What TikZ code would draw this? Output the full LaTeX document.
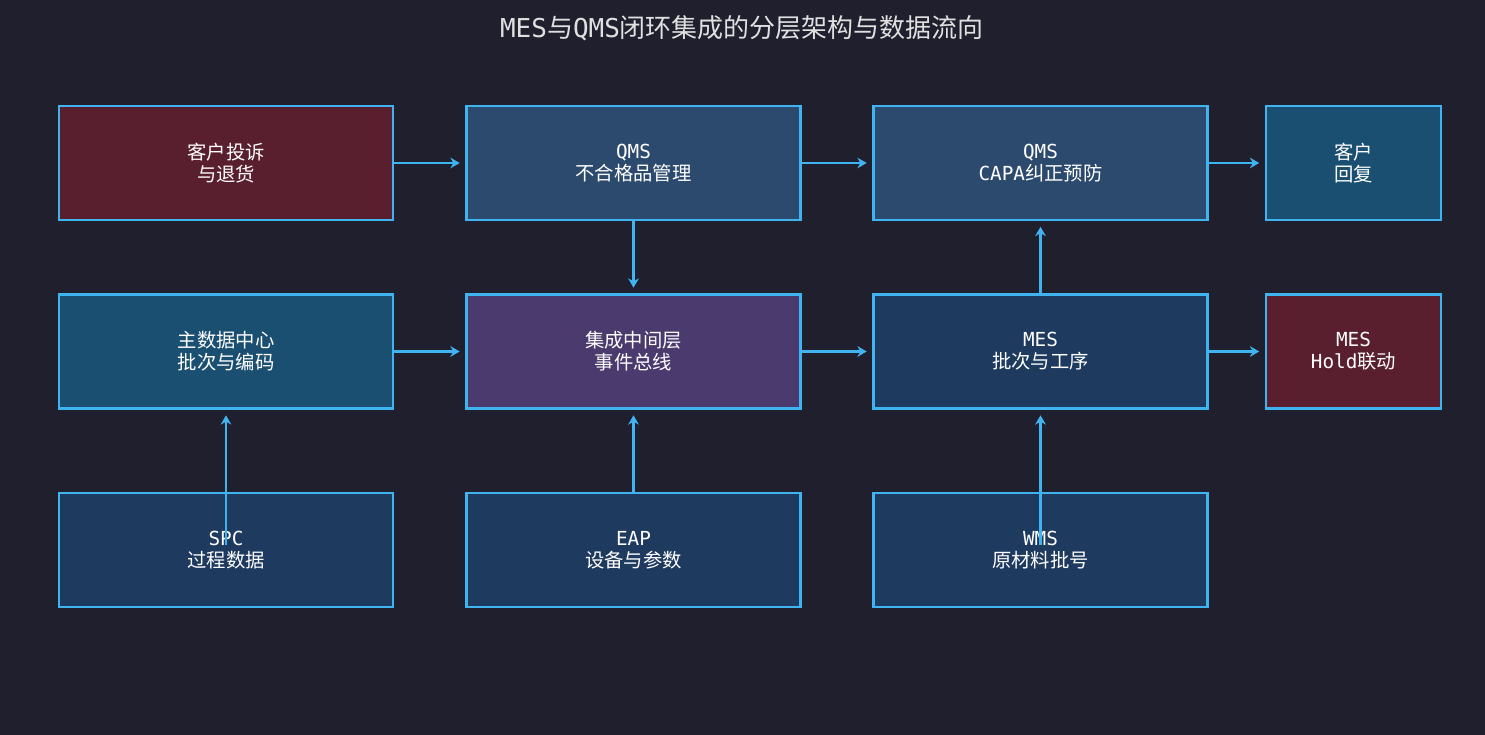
\documentclass[tikz,border=0pt]{standalone}
\usepackage{fontspec}
\setmainfont{DejaVu Sans Mono}
\newfontfamily\cjk{Noto Sans CJK SC}
\usetikzlibrary{arrows.meta}
\definecolor{bgc}{HTML}{1F1F2E}
\definecolor{edgec}{HTML}{3FB4F0}
\definecolor{redc}{HTML}{5A1F2E}
\definecolor{slatec}{HTML}{2C4A6E}
\definecolor{tealc}{HTML}{1B4F72}
\definecolor{purplec}{HTML}{4A3A6E}
\definecolor{navyc}{HTML}{1E3A5F}
\tikzset{
  box/.style={draw=edgec,line width=2.2pt,text=white,align=center,
    minimum width=250.5pt,minimum height=85.5pt,inner sep=0pt,font=\fontsize{14.5}{16.5}\selectfont},
  small/.style={box,minimum width=131.25pt},
  flow/.style={draw=edgec,line width=2.2pt,-{Stealth[length=7pt,width=8pt]}},
}
\begin{document}
\begin{tikzpicture}[x=0.75pt,y=-0.75pt]
\fill[bgc] (0,0) rectangle (1485,735);
\useasboundingbox (0,0) rectangle (1485,735);
\node[text=white!88!black,font=\fontsize{19.5}{22}\selectfont] (title) at (742,28) {MES{\cjk 与}QMS{\cjk 闭环集成的分层架构与数据流向}};
% top row
\node[box,fill=redc] (complaint) at (226,163) {{\cjk 客户投诉}\\{\cjk 与退货}};
\node[box,fill=slatec] (ncr) at (633.5,163) {QMS\\{\cjk 不合格品管理}};
\node[box,fill=slatec] (capa) at (1040.5,163) {QMS\\CAPA{\cjk 纠正预防}};
\node[small,fill=tealc] (reply) at (1353.5,163) {{\cjk 客户}\\{\cjk 回复}};
% middle row
\node[box,fill=tealc] (mdm) at (226,351.5) {{\cjk 主数据中心}\\{\cjk 批次与编码}};
\node[box,fill=purplec] (bus) at (633.5,351.5) {{\cjk 集成中间层}\\{\cjk 事件总线}};
\node[box,fill=navyc] (mes) at (1040.5,351.5) {MES\\{\cjk 批次与工序}};
\node[small,fill=redc] (hold) at (1353.5,351.5) {MES\\Hold{\cjk 联动}};
% bottom row
\node[box,fill=navyc] (spc) at (226,550) {SPC\\{\cjk 过程数据}};
\node[box,fill=navyc] (eap) at (633.5,550) {EAP\\{\cjk 设备与参数}};
\node[box,fill=navyc] (wms) at (1040.5,550) {WMS\\{\cjk 原材料批号}};
\coordinate (spcin) at (226,545);
\coordinate (wmsin) at (1040.5,545);
% connectors
\draw[flow] (complaint) -- ([xshift=-4pt]ncr.west);
\draw[flow] (ncr) -- ([xshift=-4pt]capa.west);
\draw[flow] (capa) -- ([xshift=-4pt]reply.west);
\draw[flow] (ncr) -- ([yshift=4pt]bus.north);
\draw[flow] (mes) -- ([yshift=-4pt]capa.south);
\draw[flow] (mdm) -- ([xshift=-4pt]bus.west);
\draw[flow] (bus) -- ([xshift=-4pt]mes.west);
\draw[flow] (mes) -- ([xshift=-4pt]hold.west);
\draw[flow] (spcin) -- ([yshift=-4pt]mdm.south);
\draw[flow] (eap) -- ([yshift=-4pt]bus.south);
\draw[flow] (wmsin) -- ([yshift=-4pt]mes.south);
\end{tikzpicture}
\end{document}
